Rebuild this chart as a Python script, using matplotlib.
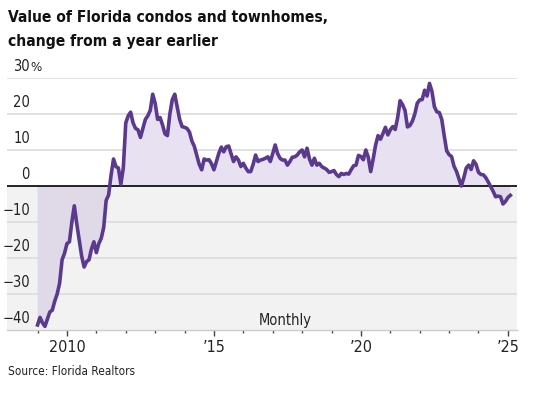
import numpy as np
import matplotlib
matplotlib.use("Agg")
import matplotlib.pyplot as plt
from matplotlib import font_manager

# monthly y/y change in value, percent, Jan 2009 .. Feb 2025
v2009 = [-38.6, -36.5, -38, -39, -37, -35, -34.5, -32, -30, -27, -20.5, -18.7]
v2010 = [-16, -15.5, -10, -5.5, -10.5, -15, -19.5, -22.5, -21, -20.5, -17.5, -15.5]
v2011 = [-18.5, -16, -14.5, -11.5, -4, -2.5, 3, 7.5, 5.4, 5, 0.5, 5]
v2012 = [17.5, 19.5, 20.5, 17.5, 16, 15.6, 13.5, 16, 18.5, 19.5, 21, 25.5]
v2013 = [23, 18.5, 19, 17, 14.5, 14, 20, 24, 25.5, 22, 18.5, 16.5]
v2014 = [16.3, 16, 15, 12.5, 11, 8.5, 6, 4.5, 7.5, 7.2, 7.3, 6.2]
v2015 = [4.5, 6.8, 9.1, 10.8, 9.5, 10.9, 11.1, 9, 6.8, 8.1, 7.2, 5.4]
v2016 = [6.3, 5, 4, 4, 6, 8.6, 6.8, 7.2, 7.4, 7.7, 8.1, 6.8]
v2017 = [9, 11.4, 9, 7.7, 7.2, 7.2, 5.8, 6.8, 8, 8.1, 8.6, 9.5]
v2018 = [10, 8.1, 10.5, 7.5, 5.8, 7.7, 5.8, 6.3, 5.4, 5, 4.6, 3.8]
v2019 = [4, 4.3, 3.2, 2.6, 3.5, 3.2, 3.5, 3.3, 4.5, 5.6, 5.8, 8.5]
v2020 = [8.2, 7.3, 10, 8, 4, 7.5, 11.4, 14, 13, 14.6, 16.3, 14.2]
v2021 = [15.6, 16.5, 15.7, 19, 23.7, 22.6, 21, 16.4, 16.8, 18, 20, 23]
v2022 = [23.9, 24, 26.6, 25, 28.5, 26.3, 22, 20.6, 20.4, 18.5, 14, 9.8]
v2023 = [8.7, 8.2, 5.5, 4.1, 2, 0, 2.3, 5, 5.8, 4.6, 7, 6]
v2024 = [3.8, 3.2, 3.1, 2.3, 1.1, -0.2, -1.5, -3, -2.8, -3, -5, -4.3]
v2025 = [-3.2, -2.6]

ytick_vals = [30, 20, 10, 0, -10, -20, -30, -40]
ytick_text = ["30", "20", "10", "0", "\u221210", "\u221220", "\u221230", "\u221240"]
major_years = [2010, 2015, 2020, 2025]
major_text = ["2010", "\u201915", "\u201920", "\u201925"]

vals = np.array(v2009 + v2010 + v2011 + v2012 + v2013 + v2014 + v2015 + v2016
                + v2017 + v2018 + v2019 + v2020 + v2021 + v2022 + v2023 + v2024 + v2025)
t = 2009 + np.arange(len(vals)) / 12.0

# look for a narrow face, WSJ-style text is condensed
narrow = None
for f in font_manager.fontManager.ttflist:
    if ('Narrow' in f.name or 'Condensed' in f.name) and narrow is None:
        narrow = f.name
    if f.name == 'DejaVu Sans' and f.stretch in ('condensed', 'semi-condensed', 600, 500):
        narrow = narrow or 'DejaVu Sans'
plt.rcParams['font.family'] = [narrow or 'DejaVu Sans', 'DejaVu Sans']
plt.rcParams['font.stretch'] = 'condensed'

purple = '#5b3a8e'
txt = '#222222'
fig = plt.figure(figsize=(5.44, 3.93), dpi=100)
ax = fig.add_axes([7 / 544, 63 / 393, 510 / 544, 252 / 393])

ax.set_xlim(2007.96, 2025.31)
ax.set_ylim(-40, 30)

ax.axhspan(-40, 0, color='#f2f2f2', zorder=0, lw=0)
for v in ytick_vals[:-1]:
    if v != 0:
        ax.axhline(v, color='#dcdcdc', lw=1.2, zorder=1)

ax.fill_between(t, vals, 0, where=vals >= 0, interpolate=True, color='#e7e1f1', lw=0, zorder=2)
ax.fill_between(t, vals, 0, where=vals <= 0, interpolate=True, color='#dfd9e8', lw=0, zorder=2)
ax.axhline(0, color='black', lw=1.2, zorder=3)
ax.plot(t, vals, color=purple, lw=2.6, zorder=4, solid_joinstyle='round')

# y labels sit above the gridlines
xlab = (30 - 7) / 510
for v, s in zip(ytick_vals, ytick_text):
    ax.text(xlab, v + 1.1, s, transform=ax.get_yaxis_transform(), ha='right', va='bottom',
            fontsize=10.5, color=txt, zorder=5)
ax.text(xlab, 30 + 1.1, "%", transform=ax.get_yaxis_transform(), ha='left', va='bottom',
        fontsize=9.5, color=txt)

ax.text(2017.41, -39.4, "Monthly", ha='center', va='bottom', fontsize=10.5, color=txt, zorder=5)

for s in ['top', 'right', 'left']:
    ax.spines[s].set_visible(False)
ax.spines['bottom'].set_color('#cccccc')
ax.spines['bottom'].set_linewidth(1.0)
ax.set_yticks([])
ax.set_xticks(major_years)
ax.set_xticklabels(major_text, fontsize=11.5, color=txt)
ax.set_xticks(range(2009, 2026), minor=True)
ax.tick_params(axis='x', which='major', length=4.5, width=1, color='#444444', pad=3)
ax.tick_params(axis='x', which='minor', length=2, width=1, color='#444444')

fig.text(8 / 544, 1 - 10 / 393, "Value of Florida condos and townhomes,", ha='left', va='top',
         fontsize=11.2, fontweight='bold', color='#111111')
fig.text(8 / 544, 1 - 34 / 393, "change from a year earlier", ha='left', va='top',
         fontsize=11.2, fontweight='bold', color='#111111')
fig.text(8 / 544, 1 - 378 / 393, "Source: Florida Realtors", ha='left', va='bottom',
         fontsize=8.5, color=txt)

fig.savefig("out.png", dpi=100)
